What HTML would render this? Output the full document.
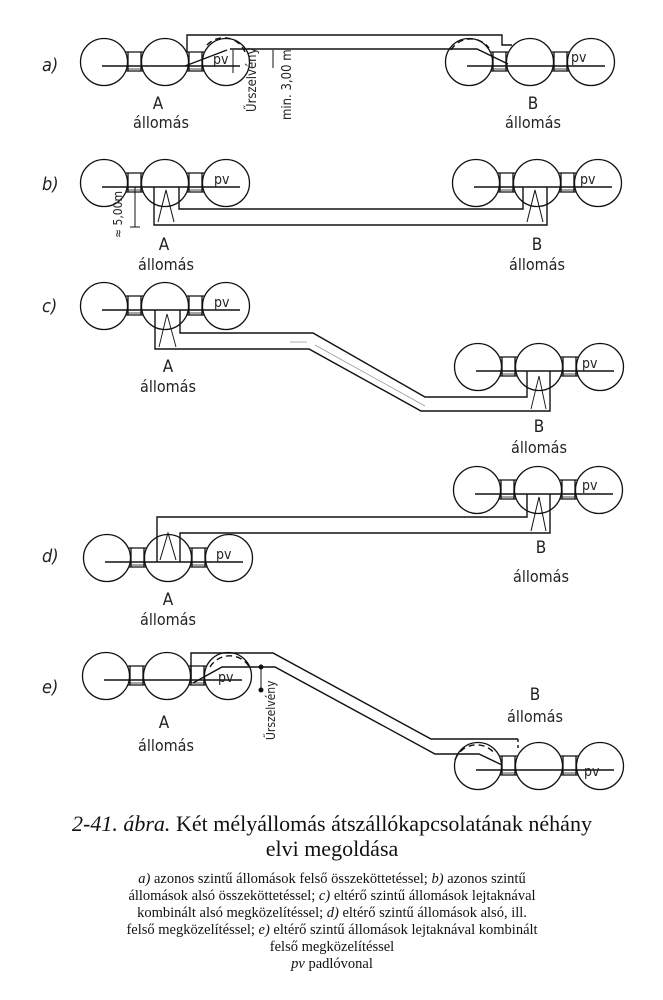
<!DOCTYPE html>
<html><head><meta charset="utf-8"><style>
html,body{margin:0;padding:0;background:#fff;}
svg{display:block;}
.t{font-family:"DejaVu Sans Condensed","Liberation Sans",sans-serif;font-weight:200;fill:#222;}
.cap{font-family:"Liberation Serif",serif;fill:#111;}
</style></head><body>
<svg width="663" height="1000" viewBox="0 0 663 1000" xmlns="http://www.w3.org/2000/svg">
<defs>
<g id="st" fill="none" stroke="#111" stroke-width="1.3">
<circle cx="0" cy="0" r="23.5"/><circle cx="61" cy="0" r="23.5"/><circle cx="122" cy="0" r="23.5"/>
<path d="M22 -10 H39 M22 9 H39 M83 -10 H100 M83 9 H100 M24 -10 V9 M37 -10 V9 M85 -10 V9 M98 -10 V9"/>
<path d="M22 7 H39 M83 7 H100" stroke-width="0.8"/>
<path d="M-2 4 H136" stroke-width="1.5"/>
</g>
</defs>
<rect width="663" height="1000" fill="#fff"/>
<g class="t" font-size="18" font-style="italic">
<text x="42" y="71">a)</text><text x="42" y="190">b)</text><text x="42" y="312">c)</text><text x="42" y="562">d)</text><text x="42" y="693">e)</text>
</g>

<!-- a -->
<use href="#st" x="104" y="62"/><use href="#st" x="469" y="62"/>
<g fill="none" stroke="#111" stroke-width="1.4">
<path d="M187 52 V35 H502 V45 H512"/>
<path d="M230 49 H477 L508 64"/>
<path d="M185 66 L227 50"/>
<path d="M233 50 V73 M273 50 V68" stroke-width="1"/>
<path d="M207 45 A23 23 0 0 1 245 52" stroke-dasharray="6 4"/>
<path d="M451 50 A23 23 0 0 1 489 48" stroke-dasharray="6 4"/>
</g>
<g class="t" font-size="14">
<text x="213" y="64">pv</text><text x="571" y="62">pv</text>
<text x="158" y="109" font-size="17" text-anchor="middle">A</text>
<text x="161" y="128" font-size="16" text-anchor="middle">állomás</text>
<text x="533" y="109" font-size="17" text-anchor="middle">B</text>
<text x="533" y="128" font-size="16" text-anchor="middle">állomás</text>
<text transform="translate(256,112) rotate(-90)" font-size="13">Űrszelvény</text>
<text transform="translate(291,120) rotate(-90)" font-size="13">min. 3,00 m</text>
</g>

<!-- b -->
<use href="#st" x="104" y="183"/><use href="#st" x="476" y="183"/>
<g fill="none" stroke="#111" stroke-width="1.4">
<path d="M154 187 V225 H547 V187"/>
<path d="M179 187 V209 H523 V187"/>
<path d="M158 222 L166 190 L174 222" stroke-width="1"/>
<path d="M527 222 L535 190 L543 222" stroke-width="1"/>
<path d="M135 187 V227 M130 227 H140" stroke-width="1"/>
</g>
<g class="t" font-size="14">
<text x="214" y="184">pv</text><text x="580" y="184">pv</text>
<text transform="translate(122,238) rotate(-90)" font-size="12">≈ 5,00m</text>
<text x="164" y="250" font-size="17" text-anchor="middle">A</text>
<text x="166" y="270" font-size="16" text-anchor="middle">állomás</text>
<text x="537" y="250" font-size="17" text-anchor="middle">B</text>
<text x="537" y="270" font-size="16" text-anchor="middle">állomás</text>
</g>

<!-- c -->
<use href="#st" x="104" y="306"/><use href="#st" x="478" y="367"/>
<g fill="none" stroke="#111" stroke-width="1.4">
<path d="M155 310 V349 H309 L421 411 H550 V371"/>
<path d="M180 310 V333 H313 L425 397 H527 V371"/>
<path d="M290 342 H307 M315 345 L425 406" stroke="#999" stroke-width="0.8"/>
<path d="M159 347 L167 314 L176 347" stroke-width="0.9"/>
<path d="M531 409 L539 376 L546 409" stroke-width="0.9"/>
</g>
<g class="t" font-size="14">
<text x="214" y="307">pv</text><text x="582" y="368">pv</text>
<text x="168" y="372" font-size="17" text-anchor="middle">A</text>
<text x="168" y="392" font-size="16" text-anchor="middle">állomás</text>
<text x="539" y="432" font-size="17" text-anchor="middle">B</text>
<text x="539" y="453" font-size="16" text-anchor="middle">állomás</text>
</g>

<!-- d -->
<use href="#st" x="477" y="490"/><use href="#st" x="107" y="558"/>
<g fill="none" stroke="#111" stroke-width="1.4">
<path d="M157 562 V517 H527 V494"/>
<path d="M180 562 V533 H550 V494"/>
<path d="M160 560 L168 533 L176 560" stroke-width="1"/>
<path d="M531 531 L539 497 L546 531" stroke-width="1"/>
</g>
<g class="t" font-size="14">
<text x="582" y="490">pv</text><text x="216" y="559">pv</text>
<text x="541" y="553" font-size="17" text-anchor="middle">B</text>
<text x="541" y="582" font-size="16" text-anchor="middle">állomás</text>
<text x="168" y="605" font-size="17" text-anchor="middle">A</text>
<text x="168" y="625" font-size="16" text-anchor="middle">állomás</text>
</g>

<!-- e -->
<use href="#st" x="106" y="676"/><use href="#st" x="478" y="766"/>
<g fill="none" stroke="#111" stroke-width="1.4">
<path d="M191 683 V653 H273 L431 739 H518"/>
<path d="M518 739 V748" stroke-dasharray="3 3"/>
<path d="M193 683 L222 667 H275 L435 754 H479 L502 765"/>
<path d="M261 667 V690" stroke-width="1"/>
<circle cx="261" cy="667" r="1.8" fill="#111"/><circle cx="261" cy="690" r="1.8" fill="#111"/>
<path d="M210 667 A23 23 0 0 1 250 668" stroke-dasharray="6 4"/>
<path d="M455 760 A23 23 0 0 1 495 754" stroke-dasharray="6 4"/>
</g>
<g class="t" font-size="14">
<text x="218" y="682">pv</text><text x="584" y="776">pv</text>
<text transform="translate(275,740) rotate(-90)" font-size="12">Űrszelvény</text>
<text x="164" y="728" font-size="17" text-anchor="middle">A</text>
<text x="166" y="751" font-size="16" text-anchor="middle">állomás</text>
<text x="535" y="700" font-size="17" text-anchor="middle">B</text>
<text x="535" y="722" font-size="16" text-anchor="middle">állomás</text>
</g>

<!-- caption -->
<text class="cap" x="332" y="831" font-size="22" text-anchor="middle"><tspan font-style="italic">2-41. ábra.</tspan> Két mélyállomás átszállókapcsolatának néhány</text>
<text class="cap" x="332" y="856" font-size="22" text-anchor="middle">elvi megoldása</text>
<g class="cap" font-size="14.5" text-anchor="middle">
<text x="332" y="883"><tspan font-style="italic">a)</tspan> azonos szintű állomások felső összeköttetéssel; <tspan font-style="italic">b)</tspan> azonos szintű</text>
<text x="332" y="900">állomások alsó összeköttetéssel; <tspan font-style="italic">c)</tspan> eltérő szintű állomások lejtaknával</text>
<text x="332" y="917">kombinált alsó megközelítéssel; <tspan font-style="italic">d)</tspan> eltérő szintű állomások alsó, ill.</text>
<text x="332" y="934">felső megközelítéssel; <tspan font-style="italic">e)</tspan> eltérő szintű állomások lejtaknával kombinált</text>
<text x="332" y="951">felső megközelítéssel</text>
<text x="332" y="968"><tspan font-style="italic">pv</tspan> padlóvonal</text>
</g>
</svg>
</body></html>
